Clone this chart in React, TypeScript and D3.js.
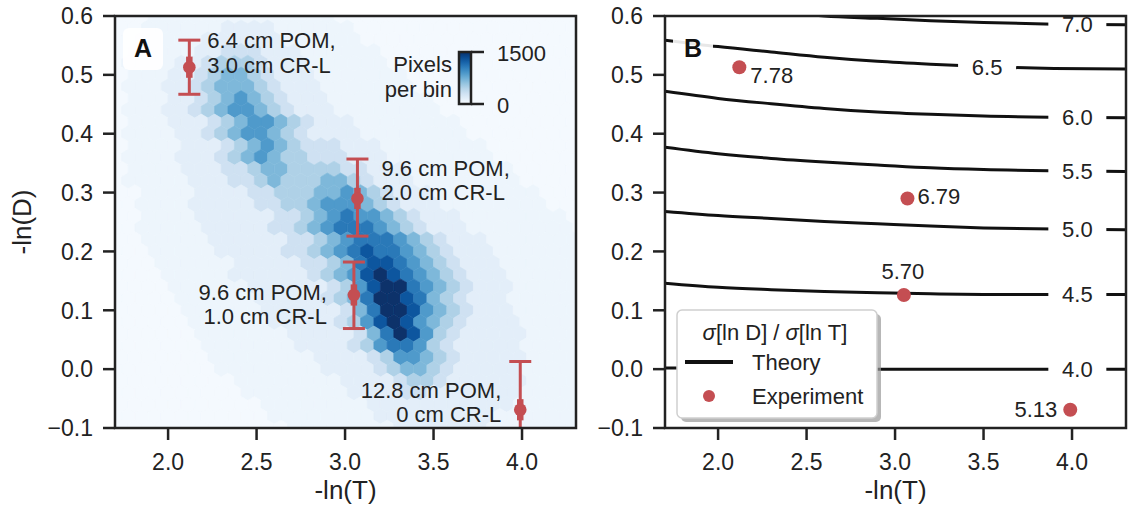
import React from "react";
import * as d3 from "d3";

const xTicks = [2.0, 2.5, 3.0, 3.5, 4.0];
const yTicks = [-0.1, 0.0, 0.1, 0.2, 0.3, 0.4, 0.5, 0.6];

// hexbin: one char per hex, index into binLevels (pixels per bin)
const binLevels = [20, 75, 150, 300, 480, 680, 880, 1080, 1275, 1500];
const hexRows = [
  "000111111111111110000000000000000000",
  "001111112222111111000000000000000000",
  "001111122222211111100000000000000000",
  "011111223332221111110000000000000000",
  "011112234443222111111000000000000000",
  "011122345543222111111100000000000000",
  "011122345554322211111110000000000000",
  "011122345654322211111111000000000000",
  "011122345665432221111111100000000000",
  "011122234566543222111111110000000000",
  "011112234566543222211111111000000000",
  "011112223456543332221111111100000000",
  "011112223456544333222111111110000000",
  "011112223345544443322211111111000000",
  "011111222334544455432221111111100000",
  "001111222233444556543222111111110000",
  "001111222223344566654322211111111000",
  "001111222222334567665432221111111100",
  "001111122222334567776543222111111110",
  "001111122222233456777654322211111111",
  "000111112222233456787765432221111111",
  "000111111222223345788765432221111111",
  "000011111222222345689876543222111111",
  "000011111122222234689976543222111111",
  "000001111112222234579987543222111111",
  "000001111112222223579986543222111111",
  "000000111111222223468986543222211111",
  "000000111111122222357986432222211111",
  "000000011111112222346776432222211111",
  "000000011111111222234665432222211111",
  "000000001111111122223455432222211111",
  "000000000111111112222344322222211111",
  "000000000011111111222233222222211111",
  "000000000001111111122222222222111111",
  "000000000000111111112222222221111111",
  "000000000000011111111222222211111111",
];
const hexX0 = 1.7;
const hexY0 = 0.6;
const hexDX = 0.075;
const hexDY = 0.02;

// experiments
const expX = [2.12, 3.07, 3.05, 3.99];
const expY = [0.513, 0.29, 0.126, -0.069];
const errLow = [0.467, 0.226, 0.069, -0.151];
const errHigh = [0.559, 0.357, 0.182, 0.013];
const semLow = [0.495, 0.272, 0.108, -0.087];
const semHigh = [0.531, 0.308, 0.144, -0.051];
const expNames = [
  ["6.4 cm POM,", "3.0 cm CR-L"],
  ["9.6 cm POM,", "2.0 cm CR-L"],
  ["9.6 cm POM,", "1.0 cm CR-L"],
  ["12.8 cm POM,", "0 cm CR-L"],
];
const ratioLabels = ["7.78", "6.79", "5.70", "5.13"];

// theory contours of sigma[ln D] / sigma[ln T]
const contourX = [1.7, 2.0, 2.3, 2.6, 2.9, 3.2, 3.5, 3.9, 4.3];
const contourLevels = ["7.0", "6.5", "6.0", "5.5", "5.0", "4.5", "4.0"];
const contour70 = [0.635, 0.621, 0.609, 0.6, 0.596, 0.592, 0.589, 0.586, 0.585];
const contour65 = [0.559, 0.548, 0.539, 0.53, 0.523, 0.518, 0.514, 0.511, 0.51];
const contour60 = [0.472, 0.46, 0.451, 0.443, 0.437, 0.433, 0.43, 0.428, 0.427];
const contour55 = [0.377, 0.366, 0.358, 0.352, 0.347, 0.342, 0.339, 0.337, 0.336];
const contour50 = [0.268, 0.261, 0.256, 0.251, 0.247, 0.243, 0.24, 0.238, 0.237];
const contour45 = [0.146, 0.139, 0.135, 0.132, 0.13, 0.128, 0.127, 0.127, 0.127];
const contour40 = [0.002, 0.002, 0.001, 0.001, 0.0, 0.0, 0.0, 0.0, 0.0];
const contourYs = [contour70, contour65, contour60, contour55, contour50, contour45, contour40];
const contourLabelX = [4.03, 3.52, 4.03, 4.03, 4.03, 4.03, 4.03];

const FONT = "'Liberation Sans', Arial, sans-serif";
const INK = "#222";
const RED = "#c44e52";

const pw = 461;
const ph = 412;
const panelA = { left: 115, top: 16 };
const panelB = { left: 665, top: 16 };

const x = d3.scaleLinear().domain([1.7, 4.305]).range([0, pw]);
const y = d3.scaleLinear().domain([-0.1, 0.6]).range([ph, 0]);
const color = d3.scaleSequential(d3.interpolateBlues).domain([0, 1500]);

function Axes({ label }: { label: string }) {
  const tl = 12;
  return (
    <g>
      {yTicks.map((t) => (
        <g key={"y" + t} transform={`translate(0,${y(t)})`}>
          <line x1={-tl} x2={0} stroke={INK} strokeWidth={2.5} />
          <text x={-tl - 10} dy="0.36em" textAnchor="end" fontSize={23} fill={INK}>
            {d3.format(".1f")(t)}
          </text>
        </g>
      ))}
      {xTicks.map((t) => (
        <g key={"x" + t} transform={`translate(${x(t)},${ph})`}>
          <line y1={0} y2={tl} stroke={INK} strokeWidth={2.5} />
          <text y={42} textAnchor="middle" fontSize={23} fill={INK}>
            {d3.format(".1f")(t)}
          </text>
        </g>
      ))}
      <rect x={0} y={0} width={pw} height={ph} fill="none" stroke={INK} strokeWidth={2.5} />
      <text x={pw / 2} y={483} textAnchor="middle" fontSize={26} fill={INK}>
        {label}
      </text>
    </g>
  );
}

function PanelLabel({ cx, text }: { cx: number; text: string }) {
  return (
    <g>
      <rect x={cx - 20} y={12} width={40} height={42} rx={6} fill="white" opacity={0.9} />
      <text x={cx} y={41} textAnchor="middle" fontSize={25} fontWeight="bold" fill="#111">
        {text}
      </text>
    </g>
  );
}

function PanelA() {
  const w2 = (x(hexX0 + hexDX) - x(hexX0)) / 2;
  const rv = ((y(0) - y(hexDY)) * 2) / 3;
  const hexPath = `M0,${-rv}L${w2},${-rv / 2}L${w2},${rv / 2}L0,${rv}L${-w2},${rv / 2}L${-w2},${-rv / 2}Z`;
  const hexes = hexRows.flatMap((row, j) =>
    row.split("").map((ch, i) => ({
      cx: hexX0 + i * hexDX + (j % 2 ? hexDX / 2 : 0),
      cy: hexY0 - j * hexDY,
      count: binLevels[+ch],
    }))
  );
  const annot = [
    { dx: 18, dy: [-19, 6], anchor: "start" },
    { dx: 24, dy: [-22, 2], anchor: "start" },
    { dx: -27, dy: [5, 29], anchor: "end" },
    { dx: -19, dy: [-12, 12], anchor: "end" },
  ];
  return (
    <g transform={`translate(${panelA.left},${panelA.top})`}>
      <defs>
        <clipPath id="clipA">
          <rect x={0} y={0} width={pw} height={ph} />
        </clipPath>
        <filter id="soft" x="-5%" y="-5%" width="110%" height="110%">
          <feGaussianBlur stdDeviation={0.7} />
        </filter>
        <linearGradient id="cbar" x1="0" y1="1" x2="0" y2="0">
          {d3.range(0, 1.01, 0.1).map((t) => (
            <stop key={t} offset={t} stopColor={d3.interpolateBlues(t)} />
          ))}
        </linearGradient>
      </defs>
      <g clipPath="url(#clipA)">
        <rect x={0} y={0} width={pw} height={ph} fill="#f7fbff" />
        <g filter="url(#soft)">
          {hexes.map((h, k) => (
            <path
              key={k}
              d={hexPath}
              transform={`translate(${x(h.cx)},${y(h.cy)})`}
              fill={color(h.count)}
              stroke={color(h.count)}
              strokeWidth={0.6}
            />
          ))}
        </g>
        {expX.map((ex, k) => (
          <g key={k}>
            <line x1={x(ex)} x2={x(ex)} y1={y(errLow[k])} y2={y(errHigh[k])} stroke={RED} strokeWidth={3} />
            {[errLow[k], errHigh[k]].map((e, m) => (
              <line key={m} x1={x(ex) - 11} x2={x(ex) + 11} y1={y(e)} y2={y(e)} stroke={RED} strokeWidth={3} />
            ))}
            <line x1={x(ex)} x2={x(ex)} y1={y(semLow[k])} y2={y(semHigh[k])} stroke={RED} strokeWidth={6.5} />
            <circle cx={x(ex)} cy={y(expY[k])} r={6.3} fill={RED} />
          </g>
        ))}
      </g>
      {expNames.map((lines, k) => (
        <text key={k} fontSize={22} fill={INK} textAnchor={annot[k].anchor}>
          {lines.map((ln, m) => (
            <tspan key={m} x={x(expX[k]) + annot[k].dx} y={y(expY[k]) + annot[k].dy[m]}>
              {ln}
            </tspan>
          ))}
        </text>
      ))}
      <PanelLabel cx={28} text="A" />
      {/* colour bar inset */}
      <g>
        <rect x={344} y={36} width={12} height={52} fill="url(#cbar)" stroke={INK} strokeWidth={2.5} />
        <line x1={356} x2={369} y1={36} y2={36} stroke={INK} strokeWidth={2.5} />
        <line x1={356} x2={369} y1={88} y2={88} stroke={INK} strokeWidth={2.5} />
        <text x={382} y={45} fontSize={22} fill={INK}>1500</text>
        <text x={382} y={97} fontSize={22} fill={INK}>0</text>
        <text x={337} y={56} fontSize={22} fill={INK} textAnchor="end">Pixels</text>
        <text x={337} y={81} fontSize={22} fill={INK} textAnchor="end">per bin</text>
      </g>
      <Axes label="-ln(T)" />
      <text transform={`translate(${31 - panelA.left},${ph / 2}) rotate(-90)`} textAnchor="middle" fontSize={26} fill={INK}>
        -ln(D)
      </text>
    </g>
  );
}

function PanelB() {
  const line = d3
    .line<number>()
    .x((_, i) => x(contourX[i]))
    .y((d) => y(d))
    .curve(d3.curveMonotoneX);
  const labelY = (k: number) => {
    const interp = d3.scaleLinear().domain(contourX).range(contourYs[k]);
    return interp(contourLabelX[k]);
  };
  const ratioPos = [
    { dx: 11, dy: 16, anchor: "start" },
    { dx: 10, dy: 6, anchor: "start" },
    { dx: -1, dy: -16, anchor: "middle" },
    { dx: -13, dy: 7, anchor: "end" },
  ];
  return (
    <g transform={`translate(${panelB.left},${panelB.top})`}>
      <defs>
        <clipPath id="clipB">
          <rect x={0} y={0} width={pw} height={ph} />
        </clipPath>
      </defs>
      <g clipPath="url(#clipB)">
        {contourYs.map((ys, k) => (
          <path key={k} d={line(ys) || ""} fill="none" stroke="#111" strokeWidth={3} />
        ))}
        {contourLevels.map((lv, k) => (
          <g key={lv} transform={`translate(${x(contourLabelX[k])},${y(labelY(k))})`}>
            <rect x={-29} y={-11} width={58} height={22} fill="white" />
            <text dy="0.36em" textAnchor="middle" fontSize={22} fill={INK}>
              {lv}
            </text>
          </g>
        ))}
        {expX.map((ex, k) => (
          <g key={k}>
            <circle cx={x(ex)} cy={y(expY[k])} r={7} fill={RED} />
            <text
              x={x(ex) + ratioPos[k].dx}
              y={y(expY[k]) + ratioPos[k].dy}
              textAnchor={ratioPos[k].anchor}
              fontSize={22}
              fill={INK}
            >
              {ratioLabels[k]}
            </text>
          </g>
        ))}
      </g>
      <PanelLabel cx={28} text="B" />
      {/* legend */}
      <g transform="translate(12,294)">
        <rect x={4} y={4} width={200} height={108} rx={5} fill="#999" opacity={0.7} />
        <rect x={0} y={0} width={200} height={108} rx={5} fill="white" stroke="#cfcfcf" strokeWidth={1.5} />
        <text x={98} y={30} textAnchor="middle" fontSize={22} fill={INK}>
          <tspan fontStyle="italic">σ</tspan>[ln D] / <tspan fontStyle="italic">σ</tspan>[ln T]
        </text>
        <line x1={8} x2={56} y1={52} y2={52} stroke="#111" strokeWidth={4} />
        <text x={75} y={60} fontSize={22} fill={INK}>Theory</text>
        <circle cx={32} cy={86} r={6} fill={RED} />
        <text x={75} y={94} fontSize={22} fill={INK}>Experiment</text>
      </g>
      <Axes label="-ln(T)" />
    </g>
  );
}

export default function App() {
  return (
    <svg
      width={1134}
      height={515}
      style={{ position: "absolute", left: 0, top: 0, background: "white" }}
      fontFamily={FONT}
    >
      <PanelA />
      <PanelB />
    </svg>
  );
}
